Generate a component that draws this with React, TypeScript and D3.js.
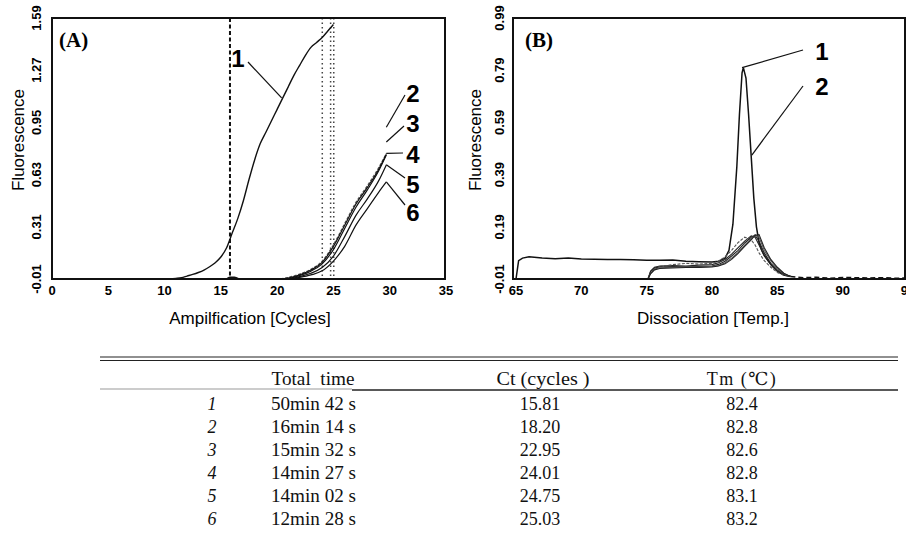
import React from 'react';
import * as d3 from 'd3';

// ---- panel A: amplification ----
const ampTicksX = [0, 5, 10, 15, 20, 25, 30, 35];
const ampTicksY = [-0.01, 0.31, 0.63, 0.95, 1.27, 1.59];

const ampCycles1 = [7.5, 9, 10, 11, 11.5, 12, 12.5, 13, 13.5, 14, 14.5, 15, 15.5, 16, 16.5, 17, 17.5, 18, 18.5, 19, 19.5, 20, 20.5, 21, 21.5, 22, 22.5, 23, 23.5, 24, 24.5, 25];
const ampCurve1 = [-0.01, -0.01, -0.01, -0.006, -0.002, 0.008, 0.018, 0.03, 0.045, 0.065, 0.09, 0.125, 0.18, 0.27, 0.36, 0.47, 0.6, 0.72, 0.82, 0.89, 0.96, 1.03, 1.1, 1.17, 1.24, 1.3, 1.36, 1.41, 1.44, 1.47, 1.51, 1.55];

const ampCycles = [18.3, 20, 21, 22, 23, 24, 25, 26, 27, 28, 29, 29.7];
const ampCurve2 = [-0.01, -0.01, 0.0, 0.02, 0.05, 0.1, 0.2, 0.33, 0.46, 0.56, 0.67, 0.76];
const ampCurve3 = [-0.01, -0.01, -0.004, 0.016, 0.045, 0.092, 0.19, 0.32, 0.45, 0.55, 0.66, 0.755];
const ampCurve4 = [-0.01, -0.01, -0.006, 0.012, 0.038, 0.083, 0.17, 0.3, 0.43, 0.535, 0.65, 0.75];
const ampCurve5 = [-0.01, -0.01, -0.01, 0.005, 0.025, 0.06, 0.13, 0.25, 0.38, 0.48, 0.59, 0.69];
const ampCurve6 = [-0.01, -0.01, -0.01, 0.0, 0.015, 0.04, 0.1, 0.19, 0.32, 0.42, 0.52, 0.585];

const ampBaseCycles = [0, 2];
const ampBumpCycles = [15.5, 15.8, 16.2, 16.6];
const ampBump = [-0.01, 0.0, 0.0, -0.01];

const ctLines = [15.81, 24.01, 24.75, 25.03];

// ---- panel B: dissociation ----
const meltTicksX = [65, 70, 75, 80, 85, 90, 95];
const meltTicksY = [-0.01, 0.19, 0.39, 0.59, 0.79, 0.99];

const meltTemps1 = [65, 65.2, 65.5, 66, 67, 68, 69, 70, 71, 72, 73, 74, 75, 76, 77, 78, 79, 80, 80.5, 81, 81.3, 81.6, 81.9, 82.1, 82.3, 82.4, 82.6, 82.8, 83.0, 83.2, 83.4, 83.6, 83.8, 84, 84.3, 84.6, 85, 85.5, 86];
const meltCurve1 = [-0.01, 0.06, 0.07, 0.075, 0.07, 0.068, 0.07, 0.067, 0.066, 0.065, 0.065, 0.064, 0.062, 0.062, 0.063, 0.058, 0.056, 0.055, 0.058, 0.07, 0.1, 0.2, 0.42, 0.62, 0.78, 0.8, 0.76, 0.62, 0.46, 0.3, 0.19, 0.13, 0.1, 0.08, 0.06, 0.04, 0.02, 0.005, 0.0];
const meltTailTemps = [86, 87, 88, 89, 90, 91, 92, 93, 94, 95];
const meltTail = [0.0, -0.005, -0.003, -0.007, -0.004, -0.005, -0.006, -0.005, -0.007, -0.006];

const meltTemps = [75.1, 75.3, 75.6, 76, 77, 78, 79, 80, 80.5, 81, 81.5, 82, 82.5, 83, 83.3, 83.6, 84, 84.5, 85, 85.5, 86];
const meltCurve2 = [-0.01, 0.02, 0.035, 0.04, 0.042, 0.04, 0.043, 0.045, 0.052, 0.065, 0.085, 0.11, 0.135, 0.155, 0.15, 0.12, 0.08, 0.045, 0.02, 0.006, 0.0];
const meltCurve3 = [-0.01, 0.015, 0.03, 0.038, 0.045, 0.05, 0.047, 0.05, 0.058, 0.075, 0.1, 0.13, 0.15, 0.14, 0.12, 0.09, 0.06, 0.035, 0.015, 0.004, 0.0];
const meltCurve4 = [-0.01, 0.018, 0.032, 0.036, 0.038, 0.037, 0.038, 0.04, 0.046, 0.058, 0.078, 0.1, 0.128, 0.15, 0.158, 0.135, 0.09, 0.05, 0.025, 0.008, 0.0];
const meltCurve5 = [-0.01, 0.012, 0.028, 0.033, 0.035, 0.036, 0.036, 0.038, 0.042, 0.052, 0.07, 0.092, 0.12, 0.145, 0.16, 0.15, 0.1, 0.06, 0.03, 0.01, 0.0];
const meltCurve6 = [-0.01, 0.01, 0.025, 0.03, 0.032, 0.034, 0.034, 0.036, 0.04, 0.048, 0.065, 0.088, 0.115, 0.14, 0.158, 0.16, 0.11, 0.065, 0.035, 0.012, 0.0];

// ---- table ----
const tableHeaders = ['Total  time', 'Ct (cycles )', 'Tm (\u2103)'];
const headerWidths = [83, 93, 0];
const sampleIds = ['1', '2', '3', '4', '5', '6'];
const totalTimes = ['50min 42 s', '16min 14 s', '15min 32 s', '14min 27 s', '14min 02 s', '12min 28 s'];
const ctValues = ['15.81', '18.20', '22.95', '24.01', '24.75', '25.03'];
const tmValues = ['82.4', '82.8', '82.6', '82.8', '83.1', '83.2'];

const sans = '"Liberation Sans", Arial, sans-serif';
const narrow = '"Liberation Sans Narrow", "Liberation Sans", Arial, sans-serif';
const serif = '"Liberation Serif", "DejaVu Serif", serif';

function App() {
    // layout
    const top = 18, bottom = 279;
    const xA = d3.scaleLinear().domain([0, 35]).range([52, 446]);
    const yA = d3.scaleLinear().domain([-0.01, 1.59]).range([bottom, top]);
    const xB = d3.scaleLinear().domain([65, 95]).range([516, 908]);
    const yB = d3.scaleLinear().domain([-0.01, 0.99]).range([bottom, top]);

    const lineA = (xs: number[], ys: number[]) =>
        d3.line<number>().x((d, i) => xA(xs[i])).y((d) => yA(d)).curve(d3.curveMonotoneX)(ys) || '';
    const lineB = (xs: number[], ys: number[]) =>
        d3.line<number>().x((d, i) => xB(xs[i])).y((d) => yB(d))(ys) || '';

    const ampSeries = [ampCurve2, ampCurve3, ampCurve4, ampCurve5, ampCurve6];
    const meltSeries = [meltCurve2, meltCurve3, meltCurve4, meltCurve5, meltCurve6];

    // leader lines: label anchor (px) -> data point
    const ampLeaders = [
        { label: '1', lx: 238, ly: 67, from: [248, 62], to: [20.4, 1.1] },
        { label: '2', lx: 413, ly: 102, from: [405, 95], to: [29.7, 0.92] },
        { label: '3', lx: 413, ly: 132, from: [404, 126], to: [29.7, 0.83] },
        { label: '4', lx: 413, ly: 163, from: [403, 153], to: [29.7, 0.76] },
        { label: '5', lx: 413, ly: 193, from: [405, 178], to: [29.7, 0.69] },
        { label: '6', lx: 413, ly: 221, from: [405, 205], to: [29.7, 0.585] },
    ];
    const meltLeaders = [
        { label: '1', lx: 822, ly: 60, from: [803, 50], to: [82.3, 0.8] },
        { label: '2', lx: 822, ly: 95, from: [803, 86], to: [83.05, 0.465] },
    ];

    const rowY = d3.scaleLinear().domain([0, 5]).range([410, 525]);
    const colX = [212, 313, 540, 742];
    const headX = [313, 543, 742];

    return (
        <div style={{ position: 'absolute', left: 0, top: 0 }}>
            <svg width={906} height={551} style={{ background: 'white', display: 'block' }}>
                {/* ---------- panel A ---------- */}
                <g>
                    {ctLines.map((c, i) => (
                        <line key={'ct' + i} x1={xA(c)} x2={xA(c)} y1={top} y2={bottom}
                            stroke={i === 0 ? '#111' : '#444'} strokeWidth={i === 0 ? 2 : 1.5}
                            strokeDasharray={i === 0 ? '4,2.5' : '1.5,3'} />
                    ))}
                    <path d={lineA(ampBaseCycles, [-0.01, -0.01])} fill="none" stroke="#111" strokeWidth={1.5} />
                    <path d={lineA(ampBumpCycles, ampBump)} fill="none" stroke="#111" strokeWidth={1.5} />
                    <path d={lineA(ampCycles1, ampCurve1)} fill="none" stroke="#111" strokeWidth={1.4} />
                    {ampSeries.map((s, i) => (
                        <path key={'a' + i} d={lineA(ampCycles, s)} fill="none"
                            stroke={i === 0 ? '#555' : '#111'} strokeWidth={1.2}
                            strokeDasharray={i === 0 ? '3,1.5' : undefined} />
                    ))}
                    <rect x={xA(0)} y={top} width={xA(35) - xA(0) - 1} height={bottom - top}
                        fill="none" stroke="#111" strokeWidth={2} />
                    {ampTicksX.map((t) => (
                        <text key={'ax' + t} x={xA(t)} y={295} textAnchor="middle"
                            fontFamily={narrow} fontWeight="bold" fontSize={13}>{t}</text>
                    ))}
                    {ampTicksY.map((t) => (
                        <text key={'ay' + t} transform={`translate(41,${yA(t)}) rotate(-90)`} textAnchor="middle"
                            fontFamily={narrow} fontWeight="bold" fontSize={13}>{t.toFixed(2)}</text>
                    ))}
                    <text transform="translate(24,140) rotate(-90)" textAnchor="middle"
                        fontFamily={sans} fontSize={17}>Fluorescence</text>
                    <text x={250} y={324} textAnchor="middle" fontFamily={sans} fontSize={17}>Ampilfication [Cycles]</text>
                    <text x={59} y={47} fontFamily={serif} fontWeight="bold" fontSize={21}>(A)</text>
                    {ampLeaders.map((l) => (
                        <g key={'al' + l.label}>
                            <line x1={l.from[0]} y1={l.from[1]} x2={xA(l.to[0])} y2={yA(l.to[1])} stroke="#111" strokeWidth={1.2} />
                            <text x={l.lx} y={l.ly} textAnchor="middle" fontFamily={sans} fontWeight="bold" fontSize={24}>{l.label}</text>
                        </g>
                    ))}
                </g>

                {/* ---------- panel B ---------- */}
                <g>
                    <path d={lineB(meltTemps1, meltCurve1)} fill="none" stroke="#111" strokeWidth={1.5} />
                    <path d={lineB(meltTailTemps, meltTail)} fill="none" stroke="#111" strokeWidth={1.5} strokeDasharray="5,3" />
                    {meltSeries.map((s, i) => (
                        <path key={'m' + i} d={lineB(meltTemps, s)} fill="none"
                            stroke={i % 2 === 0 ? '#222' : '#555'} strokeWidth={1.1}
                            strokeDasharray={i === 1 ? '3,1.5' : undefined} />
                    ))}
                    <rect x={513} y={top} width={392} height={bottom - top}
                        fill="none" stroke="#111" strokeWidth={2} />
                    {meltTicksX.map((t) => (
                        <text key={'bx' + t} x={xB(t)} y={295} textAnchor="middle"
                            fontFamily={narrow} fontWeight="bold" fontSize={13}>{t}</text>
                    ))}
                    {meltTicksY.map((t) => (
                        <text key={'by' + t} transform={`translate(504,${yB(t)}) rotate(-90)`} textAnchor="middle"
                            fontFamily={narrow} fontWeight="bold" fontSize={13}>{t.toFixed(2)}</text>
                    ))}
                    <text transform="translate(481,140) rotate(-90)" textAnchor="middle"
                        fontFamily={sans} fontSize={17}>Fluorescence</text>
                    <text x={713} y={324} textAnchor="middle" fontFamily={sans} fontSize={17}>Dissociation [Temp.]</text>
                    <text x={525} y={47} fontFamily={serif} fontWeight="bold" fontSize={21}>(B)</text>
                    {meltLeaders.map((l) => (
                        <g key={'bl' + l.label}>
                            <line x1={l.from[0]} y1={l.from[1]} x2={xB(l.to[0])} y2={yB(l.to[1])} stroke="#111" strokeWidth={1.2} />
                            <text x={l.lx} y={l.ly} textAnchor="middle" fontFamily={sans} fontWeight="bold" fontSize={24}>{l.label}</text>
                        </g>
                    ))}
                </g>

                {/* ---------- table ---------- */}
                <g fontFamily={serif} fontSize={18} fill="#111">
                    <line x1={100} x2={898} y1={357} y2={357} stroke="#222" strokeWidth={1.2} />
                    <line x1={100} x2={898} y1={360.5} y2={360.5} stroke="#222" strokeWidth={1.2} />
                    <line x1={100} x2={352} y1={389} y2={389} stroke="#999" strokeWidth={1} />
                    <line x1={352} x2={898} y1={390} y2={390} stroke="#222" strokeWidth={1.6} />
                    {tableHeaders.map((h, i) => headerWidths[i] > 0 ? (
                        <text key={'h' + i} x={headX[i] - headerWidths[i] / 2} y={385}
                            textLength={headerWidths[i]} lengthAdjust="spacingAndGlyphs" xmlSpace="preserve">{h}</text>
                    ) : (
                        <text key={'h' + i} x={headX[i]} y={385} textAnchor="middle" letterSpacing={1.5}>{h}</text>
                    ))}
                    {sampleIds.map((id, r) => (
                        <g key={'r' + r}>
                            <text x={colX[0]} y={rowY(r)} textAnchor="middle" fontStyle="italic">{id}</text>
                            <text x={colX[1] - 42} y={rowY(r)} textLength={85} lengthAdjust="spacingAndGlyphs">{totalTimes[r]}</text>
                            <text x={colX[2]} y={rowY(r)} textAnchor="middle">{ctValues[r]}</text>
                            <text x={colX[3]} y={rowY(r)} textAnchor="middle">{tmValues[r]}</text>
                        </g>
                    ))}
                </g>
            </svg>
        </div>
    );
}

export default App;
